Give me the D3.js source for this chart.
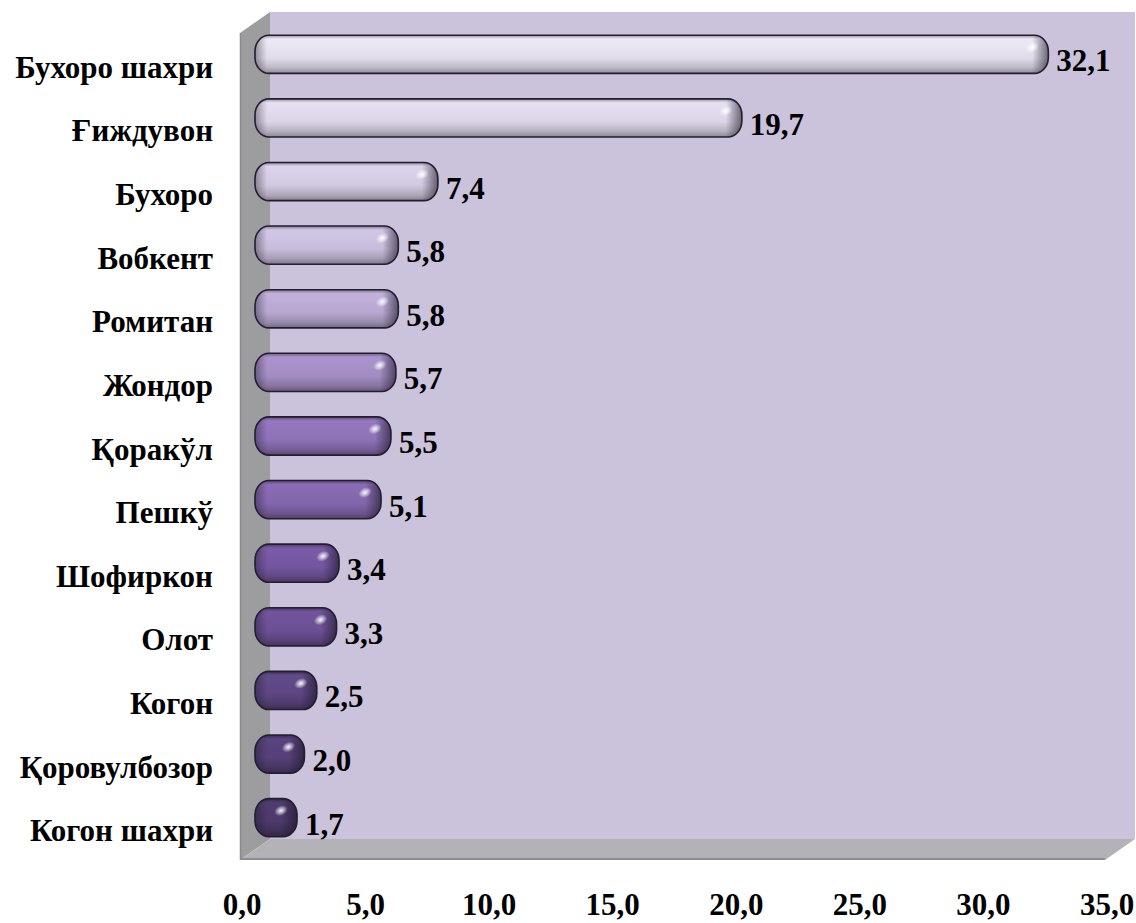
<!DOCTYPE html>
<html>
<head>
<meta charset="utf-8">
<script src="https://cdn.jsdelivr.net/npm/d3@7/dist/d3.min.js"></script>
<style>
	body { margin:0; background:#fff; }
	svg text { font-family:"Liberation Serif","Times New Roman",serif; font-weight:bold; fill:#000; }
</style>
</head>
<body>
<svg id="chart-1" width="1136" height="923"></svg>
<script>
// Data (top to bottom)
const districts = ['Бухоро шахри','Ғиждувон','Бухоро','Вобкент','Ромитан','Жондор','Қоракўл','Пешкў','Шофиркон','Олот','Когон','Қоровулбозор','Когон шахри'];
const shares = [32.1, 19.7, 7.4, 5.8, 5.8, 5.7, 5.5, 5.1, 3.4, 3.3, 2.5, 2.0, 1.7];
const xTicks = [0, 5, 10, 15, 20, 25, 30, 35];

// palette (light -> dark)
const barColors = ['#e1dcea','#dad4e6','#d1c9e0','#c7bcda','#b6a7cf','#a28cc2','#8d72b6','#8266ab','#73569e','#6b5094','#5d4682','#554078','#4d396a'];

const width = 1136, height = 923;
// front plane of the 3D box, depth offset to the back wall
const front = {left:240, right:1105, top:33, bottom:860};
const depth = {x:30, y:21};
const fontSize = '31px';

const fmt = v => d3.format('.1f')(v).replace('.', ',');

const svg = d3.select('svg#chart-1')
	.attr('width', width)
	.attr('height', height);

const defs = svg.append('defs');

const x = d3.scaleLinear()
	.domain([0, 35])
	.range([front.left, front.right]);

const y = d3.scaleBand()
	.domain(districts)
	.range([front.top, front.bottom])
	.paddingInner(0.4)
	.paddingOuter(0.2);

// ---- walls ----
const bx0 = front.left + depth.x, bx1 = front.right + depth.x;
const by0 = front.top - depth.y, by1 = front.bottom - depth.y;

svg.append('rect')
	.attr('x', bx0).attr('y', by0)
	.attr('width', bx1 - bx0).attr('height', by1 - by0)
	.attr('fill', '#cbc2dc');

svg.append('path')
	.attr('d', `M${front.left},${front.top}L${bx0},${by0}L${bx0},${by1}L${front.left},${front.bottom}Z`)
	.attr('fill', '#9d9c9f');
svg.append('line')
	.attr('x1', front.left+0.5).attr('y1', front.top)
	.attr('x2', front.left+0.5).attr('y2', front.bottom)
	.attr('stroke', '#8a898c').attr('stroke-width', 1.5);

svg.append('path')
	.attr('d', `M${front.left},${front.bottom}L${bx0},${by1}L${bx1},${by1}L${front.right},${front.bottom}Z`)
	.attr('fill', '#b3b2b6');
svg.append('line')
	.attr('x1', front.left).attr('y1', front.bottom-1)
	.attr('x2', front.right).attr('y2', front.bottom-1)
	.attr('stroke', '#8c8b8f').attr('stroke-width', 2);

// ---- bars (drawn at half depth) ----
const g = svg.append('g')
	.attr('transform', `translate(${depth.x/2},${-depth.y/2})`);

const bh = y.bandwidth();

districts.forEach((name, i) => {
	const c = d3.color(barColors[i]);
	const gv = defs.append('linearGradient')
		.attr('id', 'gv'+i)
		.attr('x1', 0).attr('y1', 0).attr('x2', 0).attr('y2', 1);
	[[0, c.darker(1.1)], [0.1, c.brighter(0.15)], [0.3, c.brighter(0.1)], [0.6, c], [0.85, c.darker(0.5)], [1, c.darker(1.3)]]
		.forEach(s => gv.append('stop').attr('offset', s[0]).attr('stop-color', s[1]));

	const x0 = x(0), x1 = x(shares[i]);
	const w = x1 - x0;
	const gh = defs.append('linearGradient')
		.attr('id', 'gh'+i)
		.attr('gradientUnits', 'userSpaceOnUse')
		.attr('x1', x0).attr('y1', 0).attr('x2', x1).attr('y2', 0);
	[[0, 0.4], [Math.min(0.45, 12/w), 0], [Math.max(0.55, 1-16/w), 0], [1, 0.6]]
		.forEach(s => gh.append('stop').attr('offset', s[0]).attr('stop-color', '#1a1424').attr('stop-opacity', s[1]));
});

const spec = defs.append('radialGradient').attr('id', 'spec');
spec.append('stop').attr('offset', 0).attr('stop-color', '#fff').attr('stop-opacity', 0.95);
spec.append('stop').attr('offset', 0.4).attr('stop-color', '#fff').attr('stop-opacity', 0.6);
spec.append('stop').attr('offset', 1).attr('stop-color', '#fff').attr('stop-opacity', 0);

const bars = g.selectAll('g.bar').data(districts)
	.enter().append('g')
		.attr('class', 'bar');

const barAttrs = sel => sel
	.attr('x', x(0))
	.attr('y', d => y(d))
	.attr('width', (d,i) => x(shares[i]) - x(0))
	.attr('height', bh)
	.attr('rx', 14).attr('ry', 16);

bars.append('rect').call(barAttrs)
	.attr('fill', (d,i) => `url(#gv${i})`);
bars.append('rect').call(barAttrs)
	.attr('fill', (d,i) => `url(#gh${i})`)
	.attr('stroke', '#241e2e')
	.attr('stroke-width', 1.6);

bars.append('ellipse')
	.attr('cx', (d,i) => x(shares[i]) - 16)
	.attr('cy', d => y(d) + 12)
	.attr('rx', 7).attr('ry', 5)
	.attr('transform', (d,i) => `rotate(-25,${x(shares[i]) - 16},${y(d) + 12})`)
	.attr('fill', 'url(#spec)');

// value labels
g.selectAll('text.value').data(districts)
	.enter().append('text')
		.attr('class', 'value')
		.attr('x', (d,i) => x(shares[i]) + 8)
		.attr('y', d => y(d) + bh/2 + 17)
		.attr('font-size', fontSize)
		.text((d,i) => fmt(shares[i]));

// ---- category labels ----
svg.selectAll('text.cat').data(districts)
	.enter().append('text')
		.attr('class', 'cat')
		.attr('x', 213)
		.attr('y', d => y(d) + bh/2 + 13)
		.attr('text-anchor', 'end')
		.attr('font-size', fontSize)
		.text(d => d);

// ---- x axis labels ----
svg.selectAll('text.tick').data(xTicks)
	.enter().append('text')
		.attr('class', 'tick')
		.attr('x', d => x(d) + 2)
		.attr('y', 915)
		.attr('text-anchor', 'middle')
		.attr('font-size', fontSize)
		.text(d => fmt(d));
</script>
</body>
</html>
